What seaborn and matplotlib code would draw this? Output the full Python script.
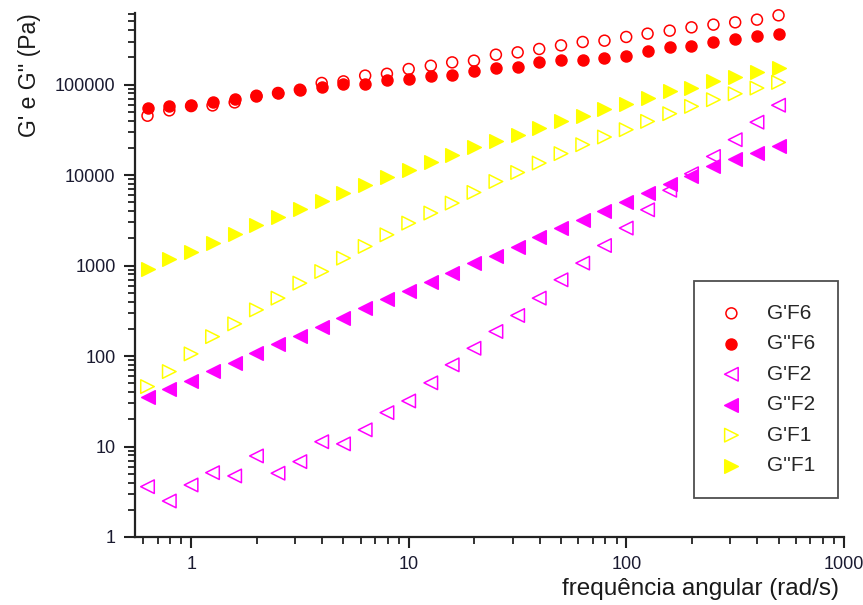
import matplotlib
matplotlib.use("Agg")
import matplotlib.pyplot as plt
import seaborn as sns
import numpy as np
from matplotlib.ticker import FixedLocator, NullFormatter, FuncFormatter, LogLocator

# ---------------- data ----------------
freq = [0.628, 0.791, 0.996, 1.25, 1.58, 1.99, 2.5, 3.15, 3.97, 5.0,
        6.29, 7.92, 9.97, 12.6, 15.8, 19.9, 25.1, 31.6, 39.7, 50.0,
        62.9, 79.2, 99.7, 125, 158, 199, 251, 316, 398, 500]

g1_f6 = [45400, 52000, 58000, 59000, 63700, 75500, 81000, 88000, 104500, 108800,
         126000, 132000, 149000, 162000, 176500, 184300, 214600, 227700, 248200, 272000,
         296700, 306700, 337000, 366600, 395600, 430500, 461300, 489000, 523600, 584400]
g2_f6 = [55200, 57500, 59000, 64400, 69500, 75500, 80900, 88000, 93300, 101800,
         102600, 111600, 115700, 123600, 129000, 143000, 153000, 155000, 176500, 189000,
         189000, 197500, 209000, 237800, 258700, 270000, 296700, 322700, 348500, 366600]
g1_f2 = [3.6, 2.5, 3.76, 5.14, 4.73, 7.87, 5.07, 6.81, 11.3, 10.7,
         15.3, 23.7, 31.9, 50.6, 80, 122, 187, 281, 437, 697,
         1066, 1668, 2600, 4140, 6810, 10360, 16100, 24650, 38500, 59300]
g2_f2 = [35.1, 43.4, 53.6, 69.2, 84.7, 107.6, 136.4, 168.6, 212, 262,
         339, 426, 530, 667, 839, 1066, 1283, 1626, 2066, 2600,
         3210, 4040, 4990, 6340, 8040, 9770, 12540, 14900, 17700, 20800]
g1_f1 = [46, 67.4, 105.7, 164, 227, 324, 437, 640, 860, 1210,
         1630, 2190, 2950, 3810, 4910, 6440, 8510, 10700, 13600, 17300,
         21700, 26400, 31800, 39300, 47800, 57600, 68200, 79400, 91800, 106000]
g2_f1 = [915, 1180, 1432, 1800, 2230, 2780, 3440, 4220, 5210, 6340,
         7830, 9430, 11500, 13800, 16800, 20500, 23600, 28000, 33200, 39300,
         45400, 53900, 61600, 71300, 84300, 91900, 108800, 121800, 136900, 153000]

labels = ["G'F6", "G''F6", "G'F2", "G''F2", "G'F1", "G''F1"]
series = [g1_f6, g2_f6, g1_f2, g2_f2, g1_f1, g2_f1]
colors = ["#ff0000", "#ff0000", "#ff00ff", "#ff00ff", "#ffff00", "#ffff00"]
markers = ["o", "o", "<", "<", ">", ">"]
filled = [False, True, False, True, False, True]

x_ticks = [1, 10, 100, 1000]
y_ticks = [1, 10, 100, 1000, 10000, 100000]

# ---------------- style ----------------
sns.set_theme(style="ticks")
plt.rcParams["font.family"] = ["Liberation Sans", "DejaVu Sans"]

fig = plt.figure(figsize=(8.63, 6.05), dpi=100)
ax = fig.add_axes([0.1564, 0.1124, 0.978 - 0.1564, 0.9785 - 0.1124])

for lab, vals, c, m, f in zip(labels, series, colors, markers, filled):
    size = 62 if m == "o" else 95
    sns.scatterplot(x=freq, y=vals, marker=m, s=size, color=c, ax=ax,
                    label=lab, linewidth=1.1, edgecolor=c, zorder=3,
                    clip_on=False)
    coll = ax.collections[-1]
    if not f:
        coll.set_facecolor("none")
    else:
        coll.set_facecolor(c)
    coll.set_edgecolor(c)

ax.set_xscale("log")
ax.set_yscale("log")
ax.set_xlim(0.55, 1000)
ax.set_ylim(1, 6.2e5)

ax.xaxis.set_major_locator(FixedLocator(x_ticks))
ax.yaxis.set_major_locator(FixedLocator(y_ticks))
ax.xaxis.set_minor_locator(LogLocator(base=10, subs=np.arange(2, 10), numticks=20))
ax.yaxis.set_minor_locator(LogLocator(base=10, subs=np.arange(2, 10), numticks=20))
ax.xaxis.set_minor_formatter(NullFormatter())
ax.yaxis.set_minor_formatter(NullFormatter())
ax.xaxis.set_major_formatter(FuncFormatter(lambda v, p: f"{v:g}"))
ax.yaxis.set_major_formatter(FuncFormatter(lambda v, p: f"{int(round(v))}"))

for s in ["top", "right"]:
    ax.spines[s].set_visible(False)
for s in ["left", "bottom"]:
    ax.spines[s].set_linewidth(1.6)
    ax.spines[s].set_color("#222222")

ax.tick_params(which="major", direction="out", length=8, width=1.5,
               colors="#222222", labelsize=13, pad=6, labelcolor="#1a1a30")
ax.tick_params(which="minor", direction="out", length=5, width=1.3, colors="#222222")

xl = ax.set_xlabel("frequência angular (rad/s)", loc="right", fontsize=17.5,
                   color="#1a1a1a", labelpad=3)
xl.set_x(0.993)
ax.set_ylabel("G' e G'' (Pa)", loc="top", fontsize=16.5, color="#1a1a1a",
              labelpad=10)
ax.grid(False)

leg = ax.legend(loc="lower right", bbox_to_anchor=(0.9915, 0.0744),
                borderaxespad=0, frameon=True, fancybox=False,
                edgecolor="#222222", fontsize=15, labelspacing=0.55,
                handlelength=1.4, handletextpad=1.0, borderpad=1.1,
                markerscale=1.0)
leg.get_frame().set_linewidth(1.3)

fig.savefig("out.png", dpi=100)
